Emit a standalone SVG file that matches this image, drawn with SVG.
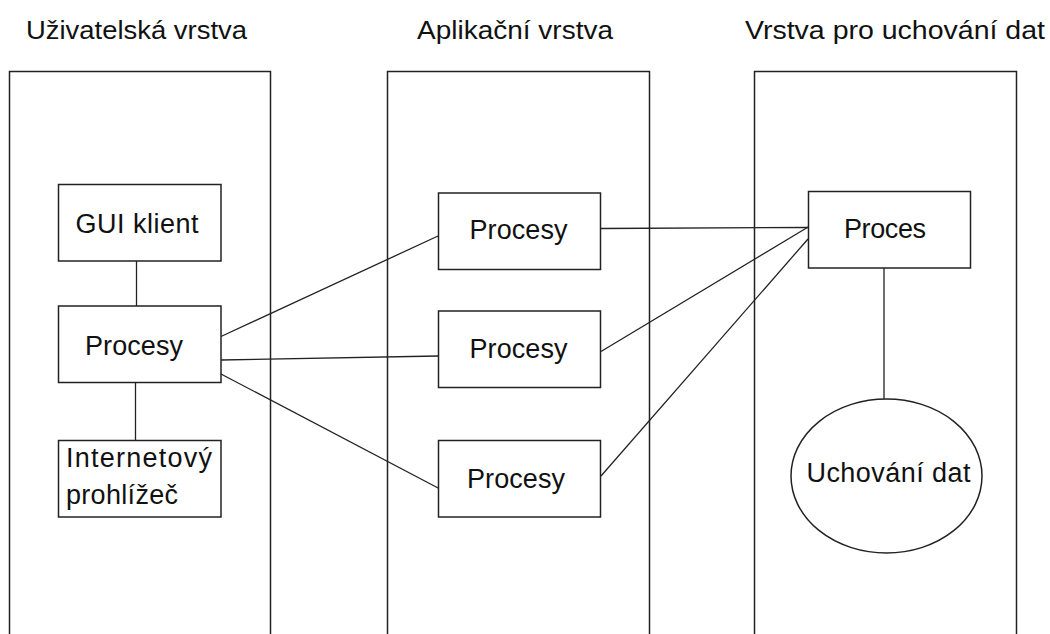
<svg xmlns="http://www.w3.org/2000/svg" width="1050" height="634" viewBox="0 0 1050 634">
<style>
.t{font-family:"Liberation Sans",Arial,sans-serif;font-size:27px;fill:#111}
.h{font-family:"Liberation Sans",Arial,sans-serif;font-size:25px;fill:#111}
.box{fill:#fff;stroke:#222;stroke-width:1.5}
.col{fill:none;stroke:#222;stroke-width:1.5}
.ln{fill:none;stroke:#222;stroke-width:1.3}
</style>
<rect width="1050" height="634" fill="#fff"/>
<g id="layers">
<g id="layer-user"><path class="col" d="M9.5,634V71.5H270.5V634"/><text class="h" x="26" y="39" textLength="221" lengthAdjust="spacingAndGlyphs">Uživatelská vrstva</text></g>
<g id="layer-app"><path class="col" d="M387.5,634V71.5H649.5V634"/><text class="h" x="417" y="39" textLength="196" lengthAdjust="spacingAndGlyphs">Aplikační vrstva</text></g>
<g id="layer-data"><path class="col" d="M754.5,634V71.5H1016.5V634"/><text class="h" x="745" y="39" textLength="300" lengthAdjust="spacingAndGlyphs">Vrstva pro uchování dat</text></g>
</g>
<g id="connectors">
<line class="ln" x1="136.5" y1="261" x2="136.5" y2="306"/>
<line class="ln" x1="135.5" y1="382" x2="135.5" y2="440"/>
<line class="ln" x1="221" y1="336.5" x2="438" y2="236"/>
<line class="ln" x1="221" y1="360" x2="438" y2="356"/>
<line class="ln" x1="221" y1="374" x2="440" y2="489"/>
<line class="ln" x1="601" y1="228.5" x2="808" y2="227.5"/>
<line class="ln" x1="601" y1="351.5" x2="809" y2="226.5"/>
<line class="ln" x1="601" y1="476" x2="808" y2="239"/>
<line class="ln" x1="884" y1="268" x2="884" y2="399"/>
</g>
<g id="n-gui"><rect class="box" x="58.5" y="184.5" width="162.5" height="76.5"/><text class="t" x="137" y="233" text-anchor="middle" textLength="123">GUI klient</text></g>
<g id="n-procesy-left"><rect class="box" x="58.5" y="306" width="162.5" height="76.5"/><text class="t" x="134" y="355" text-anchor="middle" textLength="98">Procesy</text></g>
<g id="n-browser"><rect class="box" x="58.5" y="440.5" width="162.5" height="76.5"/><text class="t" x="66" y="467" textLength="146">Internetový</text><text class="t" x="66" y="504" textLength="112">prohlížeč</text></g>
<g id="n-procesy-1"><rect class="box" x="438.5" y="193" width="162" height="76.5"/><text class="t" x="518.5" y="239" text-anchor="middle" textLength="98">Procesy</text></g>
<g id="n-procesy-2"><rect class="box" x="438.5" y="311" width="162" height="76.5"/><text class="t" x="518.5" y="358" text-anchor="middle" textLength="98">Procesy</text></g>
<g id="n-procesy-3"><rect class="box" x="438.5" y="440.5" width="162" height="76.5"/><text class="t" x="516" y="488" text-anchor="middle" textLength="98">Procesy</text></g>
<g id="n-proces"><rect class="box" x="808.5" y="191.5" width="162" height="76.5"/><text class="t" x="885" y="238" text-anchor="middle" textLength="82">Proces</text></g>
<g id="n-storage"><ellipse class="box" cx="886.5" cy="476" rx="95.5" ry="77"/><text class="t" x="888.5" y="482" text-anchor="middle" textLength="164">Uchování dat</text></g>
</svg>
